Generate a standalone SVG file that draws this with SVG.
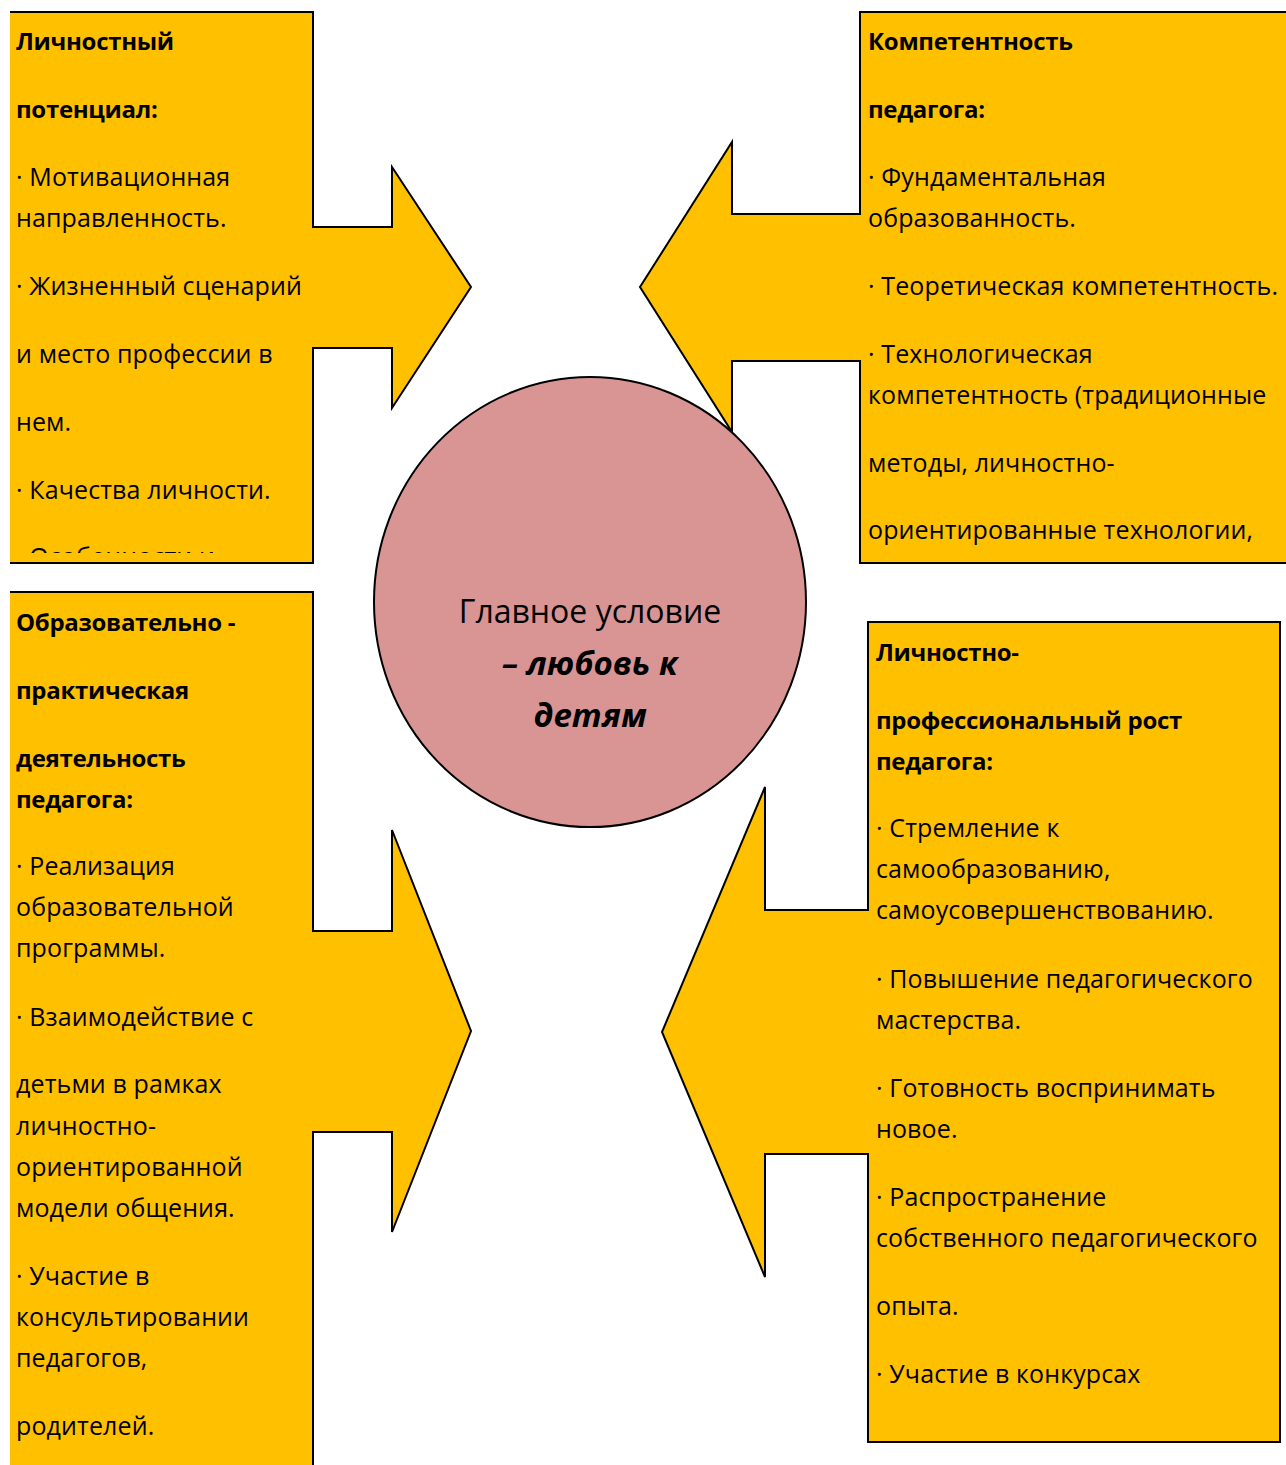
<svg xmlns="http://www.w3.org/2000/svg" width="1286" height="1465" viewBox="0 0 1286 1465">
<style>
.box{fill:#FFC000;stroke:#000;stroke-width:2;stroke-linejoin:miter}
.t{font-family:"Open Sans","Noto Sans","DejaVu Sans",sans-serif;font-size:25px;letter-spacing:0.12px;fill:#000}
.b{font-weight:bold;font-size:24px;letter-spacing:-0.3px}
.c{font-family:"Open Sans","Noto Sans","DejaVu Sans",sans-serif;font-size:32px;fill:#000;text-anchor:middle}
.bi{font-weight:bold;font-style:italic;font-size:33px}
</style>
<defs>
<clipPath id="page"><rect x="10" y="0" width="1276" height="1465"/></clipPath>
<clipPath id="clipTL"><rect x="10" y="12" width="303" height="541"/></clipPath>
<clipPath id="clipBR"><rect x="868" y="622" width="412" height="808"/></clipPath>
</defs>
<g id="node-personal-potential">
<polygon class="box" clip-path="url(#page)" points="0,12 313,12 313,227 392,227 392,167 471,287 392,408 392,348 313,348 313,563 0,563"/>
<g clip-path="url(#clipTL)">
<text class="t b" x="16" y="50">Личностный</text>
<text class="t b" x="16" y="118">потенциал:</text>
<text class="t" x="16" y="186">· Мотивационная</text>
<text class="t" x="16" y="227">направленность.</text>
<text class="t" x="16" y="295">· Жизненный сценарий</text>
<text class="t" x="16" y="363">и место профессии в</text>
<text class="t" x="16" y="431">нем.</text>
<text class="t" x="16" y="499">· Качества личности.</text>
<text class="t" x="16" y="566">· Особенности и</text>
</g>
</g>
<g id="node-competence">
<polygon class="box" points="1290,12 860,12 860,214 732,214 732,142 640,287 732,432 732,361 860,361 860,563 1290,563"/>
<text class="t b" x="868" y="50">Компетентность</text>
<text class="t b" x="868" y="118">педагога:</text>
<text class="t" x="868" y="186">· Фундаментальная</text>
<text class="t" x="868" y="227">образованность.</text>
<text class="t" x="868" y="295">· Теоретическая компетентность.</text>
<text class="t" x="868" y="363">· Технологическая</text>
<text class="t" x="868" y="404">компетентность (традиционные</text>
<text class="t" x="868" y="472">методы, личностно-</text>
<text class="t" x="868" y="539">ориентированные технологии,</text>
</g>
<g id="node-practice">
<polygon class="box" clip-path="url(#page)" points="0,592 313,592 313,931 392,931 392,830 471,1031 392,1232 392,1132 313,1132 313,1475 0,1475"/>
<text class="t b" x="16" y="631">Образовательно -</text>
<text class="t b" x="16" y="699">практическая</text>
<text class="t b" x="16" y="767">деятельность</text>
<text class="t b" x="16" y="808">педагога:</text>
<text class="t" x="16" y="875">· Реализация</text>
<text class="t" x="16" y="916">образовательной</text>
<text class="t" x="16" y="957">программы.</text>
<text class="t" x="16" y="1026">· Взаимодействие с</text>
<text class="t" x="16" y="1093">детьми в рамках</text>
<text class="t" x="16" y="1135">личностно-</text>
<text class="t" x="16" y="1176">ориентированной</text>
<text class="t" x="16" y="1217">модели общения.</text>
<text class="t" x="16" y="1285">· Участие в</text>
<text class="t" x="16" y="1326">консультировании</text>
<text class="t" x="16" y="1367">педагогов,</text>
<text class="t" x="16" y="1435">родителей.</text>
</g>
<g id="node-growth">
<polygon class="box" points="868,622 1280,622 1280,1442 868,1442 868,1154 765,1154 765,1277 662,1032 765,787 765,910 868,910"/>
<g clip-path="url(#clipBR)">
<text class="t b" x="876" y="661">Личностно-</text>
<text class="t b" x="876" y="729">профессиональный рост</text>
<text class="t b" x="876" y="770">педагога:</text>
<text class="t" x="876" y="837">· Стремление к</text>
<text class="t" x="876" y="878">самообразованию,</text>
<text class="t" x="876" y="919">самоусовершенствованию.</text>
<text class="t" x="876" y="988">· Повышение педагогического</text>
<text class="t" x="876" y="1029">мастерства.</text>
<text class="t" x="876" y="1097">· Готовность воспринимать</text>
<text class="t" x="876" y="1138">новое.</text>
<text class="t" x="876" y="1206">· Распространение</text>
<text class="t" x="876" y="1247">собственного педагогического</text>
<text class="t" x="876" y="1315">опыта.</text>
<text class="t" x="876" y="1383">· Участие в конкурсах</text>
</g>
</g>
<g id="node-main">
<ellipse cx="590" cy="602" rx="216" ry="225" fill="#D99594" stroke="#000" stroke-width="2"/>
<text class="c" x="590" y="623">Главное условие</text>
<text class="c bi" x="590" y="675">– любовь к</text>
<text class="c bi" x="590" y="727">детям</text>
</g>
<g id="connectors"></g>
</svg>
